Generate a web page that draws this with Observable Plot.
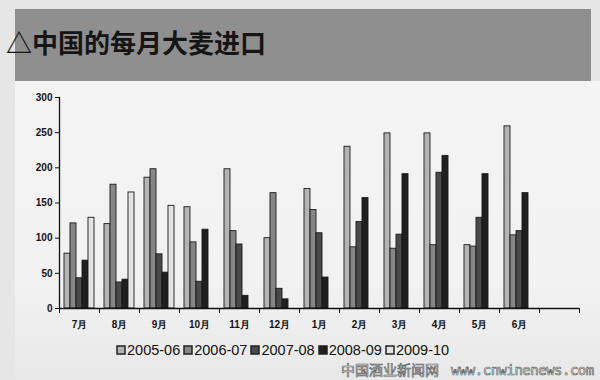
<!DOCTYPE html>
<html><head><meta charset="utf-8">
<script src="https://cdn.jsdelivr.net/npm/d3@7"></script>
<script src="https://cdn.jsdelivr.net/npm/@observablehq/plot@0.6"></script>
<style>
body{margin:0;background:#e9e9e9;}
#wrap{position:relative;width:600px;height:380px;overflow:hidden;background:#e6e6e6;font-family:"Liberation Sans",Arial,sans-serif;}
#panel{position:absolute;left:15px;top:81px;width:585px;height:299px;background:linear-gradient(180deg,#f4f4f4 0%,#f1f1f1 70%,#e8e8e8 100%);}
#band{position:absolute;left:15px;top:9px;width:576px;height:72px;background:#8f8f8f;}
#title{position:absolute;left:6px;top:23px;font-family:"Noto Sans CJK SC",sans-serif;font-size:26px;font-weight:bold;color:#151515;white-space:nowrap;}
#chart{position:absolute;left:0;top:80px;}
#legend{position:absolute;left:117px;top:333px;}
#legend span{margin-right:4px;font-size:14.5px;color:#111;}
#legend svg{margin-right:2px !important;}
#legend svg rect{stroke:#222;stroke-width:1.5px;}
#wm{position:absolute;left:341px;top:361px;font-size:14px;line-height:16px;color:#fff;-webkit-text-stroke:0.7px #666;white-space:nowrap;font-family:"Noto Sans CJK SC",sans-serif;}
#wm2{position:absolute;left:451px;top:362px;font-size:14px;line-height:16px;color:#fff;-webkit-text-stroke:0.7px #666;white-space:nowrap;font-family:"DejaVu Sans Mono",monospace;letter-spacing:-0.5px;}
</style></head>
<body>
<div id="wrap">
  <div id="panel"></div>
  <div id="band"></div>
  <div id="title">△中国的每月大麦进口</div>
  <div id="chart"></div>
  <div id="legend"></div>
  <div id="wm">中国酒业新闻网</div>
  <div id="wm2">www.cnwinenews.com</div>
</div>
<script>
const months = ["7月","8月","9月","10月","11月","12月","1月","2月","3月","4月","5月","6月"];
const series = ["2005-06","2006-07","2007-08","2008-09","2009-10"];
const v0506 = [78,120,186,144,198,100,170,230,249,249,90,259];
const v0607 = [121,176,198,94,110,164,140,87,85,90,88,104];
const v0708 = [43,37,77,38,91,28,107,123,105,193,129,110];
const v0809 = [68,41,51,112,18,13,44,157,191,217,191,164];
const v0910 = [129,165,146,null,null,null,null,null,null,null,null,null];
const yTicks = [0,50,100,150,200,250,300];
const fills = ["#b4b4b4","#868686","#4a4a4a","#1f1f1f","#e4e4e4"];

const valuesBySeries = [v0506,v0607,v0708,v0809,v0910];
const data = months.flatMap((m,i)=>series.map((s,j)=>({month:m,series:s,value:valuesBySeries[j][i]}))).filter(d=>d.value!=null);
const fxDomain = [...months, ""];

const chart = Plot.plot({
  width:600, height:255,
  marginLeft:53, marginRight:15, marginTop:17, marginBottom:27,
  style:{background:"transparent", fontFamily:"Liberation Sans, Arial, sans-serif", color:"#111", overflow:"visible"},
  fx:{domain:fxDomain, padding:0, label:null, axis:null},
  x:{domain:series, paddingInner:0, paddingOuter:0.8, axis:null},
  y:{domain:[0,300], axis:null},
  color:{domain:series, range:fills},
  marks:[
    Plot.axisY({ticks:yTicks, tickSize:4, tickPadding:3, fontWeight:"bold", fontSize:10, label:null, stroke:"#111"}),
    Plot.axisFx({anchor:"bottom", tickSize:0, tickPadding:12, fontWeight:"bold", fontSize:10, label:null}),
    Plot.barY(data,{fx:"month", x:"series", y:"value", fill:"series", stroke:"#1a1a1a", strokeWidth:0.9}),
    Plot.ruleY(fxDomain,{fx:d=>d, y:0, stroke:"#111", strokeWidth:1.3}),
    Plot.frame({anchor:"left", facetAnchor:"left", stroke:"#111", strokeWidth:1.3}),
    Plot.frame({anchor:"left", insetTop:211, insetBottom:-4, stroke:"#111"}),
    Plot.frame({anchor:"right", insetTop:211, insetBottom:-4, stroke:"#111"})
  ]
});
document.getElementById("chart").appendChild(chart);

const legend = Plot.legend({color:{domain:series, range:fills}, swatchSize:8, style:{fontFamily:"Liberation Sans, Arial, sans-serif"}});
document.getElementById("legend").appendChild(legend);
</script>
</body></html>
